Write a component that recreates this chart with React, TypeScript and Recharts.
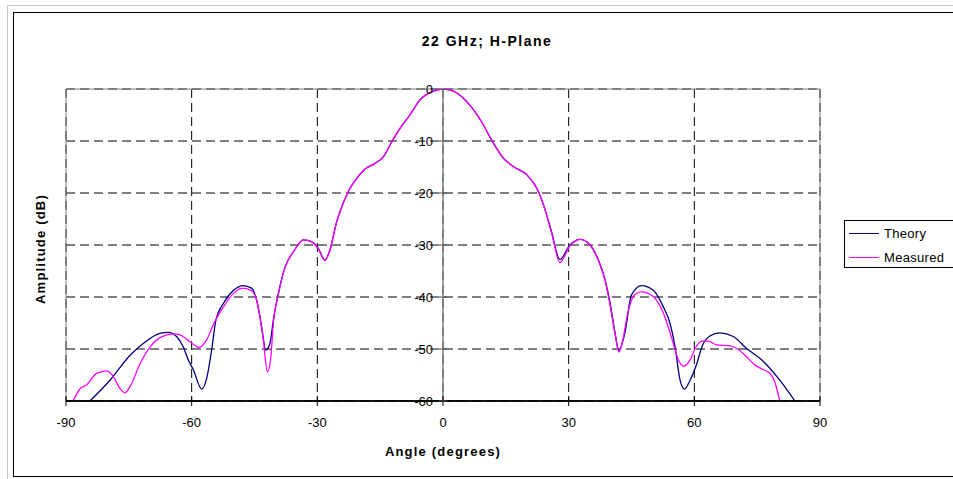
import React from 'react';
import { LineChart, Line, XAxis, YAxis, CartesianGrid, ReferenceLine, Legend } from 'recharts';

const chartTitle = '22 GHz; H-Plane';
const xTitle = 'Angle (degrees)';
const yTitle = 'Amplitude (dB)';
const seriesNames = ['Theory', 'Measured'];
const seriesColors = ['#000080', '#FF00FF'];
const xTicks = [-90, -60, -30, 0, 30, 60, 90];
const yTicks = [0, -10, -20, -30, -40, -50, -60];

const theoryAngle = [
  -84.3, -79.5, -74.7, -71.5, -67.6, -65.6, -63.6, -62.0, -60.8, -59.6, -57.6, -56.4, -55.2, -54.2,
  -52.4, -50.0, -47.7, -45.7, -44.5, -43.3, -42.3, -41.3, -40.5, -39.3, -37.7, -35.7, -33.3, -31.3,
  -29.8, -28.2, -27.0, -25.4, -24.6, -22.6, -20.6, -18.6, -16.2, -14.2, -12.2, -10.3, -7.9, -5.5,
  -2.3, 0, 2.5, 6.4, 9.2, 11.6, 14.4, 16.8, 20.0, 22.4, 24.0, 25.9, 27.9, 30.3, 32.7, 35.1, 37.1,
  38.7, 39.9, 41.1, 42.0, 43.4, 45.0, 47.4, 50.2, 52.6, 54.2, 55.4, 56.6, 57.6, 59.0, 60.6, 61.8,
  63.7, 66.1, 69.3, 72.5, 76.5, 80.4, 84.0,
];
const theoryDb = [
  -60, -56.0, -51.2, -48.9, -47.0, -46.8, -47.6, -49.6, -52.1, -54.0, -57.7, -55.6, -50.0, -44.4,
  -41.2, -38.7, -37.8, -38.3, -40.6, -45.7, -50.2, -48.9, -44.4, -39.3, -34.2, -31.3, -29.0, -29.4,
  -30.6, -32.9, -31.0, -25.6, -23.6, -19.7, -17.2, -15.4, -14.3, -13.0, -10.1, -7.6, -5.0, -2.1,
  -0.4, 0, -0.4, -3.1, -6.3, -9.8, -13.3, -14.9, -16.5, -19.1, -22.3, -27.4, -32.8, -30.0, -28.9,
  -30.0, -32.9, -36.7, -41.2, -47.0, -50.3, -47.0, -39.6, -37.8, -38.7, -41.9, -45.1, -49.6, -56.0,
  -57.7, -56.0, -52.8, -49.6, -47.5, -46.9, -47.6, -49.9, -52.4, -56.0, -60,
];

const measuredAngle = [
  -88.3, -86.7, -85.1, -82.7, -80.3, -78.7, -77.1, -75.9, -74.7, -72.3, -69.9, -67.6, -64.4, -62.8,
  -60.4, -58.2, -56.4, -54.6, -52.4, -50.0, -47.7, -45.7, -44.1, -42.9, -41.9, -41.1, -40.5, -39.3,
  -37.7, -35.7, -33.3, -31.3, -29.8, -28.2, -27.0, -25.4, -24.6, -22.6, -20.6, -18.6, -16.2, -14.2,
  -12.2, -10.3, -7.9, -5.5, -2.3, 0, 2.5, 6.4, 9.2, 11.6, 14.4, 16.8, 20.0, 22.4, 24.0, 25.9, 27.9,
  30.3, 32.7, 35.1, 37.1, 38.7, 39.9, 41.1, 42.0, 43.0, 44.0, 45.8, 47.4, 50.2, 52.6, 54.6, 56.2,
  57.4, 59.0, 60.2, 61.8, 63.3, 65.3, 68.5, 70.1, 72.1, 74.5, 76.5, 78.1, 79.3, 80.4,
];
const measuredDb = [
  -60, -57.7, -56.9, -54.7, -54.2, -55.3, -57.6, -58.4, -57.2, -52.8, -49.6, -47.8, -47.1, -47.3,
  -48.6, -49.7, -48.2, -44.9, -41.9, -39.3, -38.3, -38.8, -41.9, -48.3, -54.4, -51.5, -45.1, -39.5,
  -34.3, -31.3, -29.0, -29.4, -30.7, -33.0, -31.0, -25.6, -23.6, -19.7, -17.2, -15.4, -14.3, -13.0,
  -10.1, -7.6, -5.0, -2.1, -0.4, 0, -0.4, -3.1, -6.3, -9.8, -13.3, -14.9, -16.5, -19.1, -22.3,
  -27.6, -33.4, -30.2, -28.9, -30.0, -33.0, -36.9, -41.6, -47.3, -50.6, -48.0, -43.5, -39.5, -39.0,
  -39.9, -43.1, -47.9, -52.1, -53.3, -52.1, -49.9, -48.5, -48.5, -49.2, -49.4, -49.9, -51.2, -53.1,
  -54.0, -54.7, -56.6, -60,
];

const theoryData = theoryAngle.map((a, i) => ({ angle: a, value: theoryDb[i] }));
const measuredData = measuredAngle.map((a, i) => ({ angle: a, value: measuredDb[i] }));

const W = 953;
const H = 479;
const Y_AXIS_W = 1;
const MARGIN = { top: 89, right: 133, bottom: 48, left: 65 };
const X_AXIS_H = 30;
const PLOT_LEFT = MARGIN.left + Y_AXIS_W;
const PLOT_RIGHT = W - MARGIN.right;
const PLOT_BOTTOM = H - MARGIN.bottom - X_AXIS_H;
const CENTER_X = (PLOT_LEFT + PLOT_RIGHT) / 2;
const FONT = '"Liberation Sans", Arial, sans-serif';

const XTick = (props: any) => {
  const { x, payload } = props;
  return (
    <g>
      <line x1={x} x2={x} y1={PLOT_BOTTOM - 5} y2={PLOT_BOTTOM + 5} stroke="#000" strokeWidth={1} />
      <text x={x} y={PLOT_BOTTOM + 21} textAnchor="middle" dominantBaseline="central" fontSize={13} fill="#000" fontFamily={FONT}>
        {payload.value}
      </text>
    </g>
  );
};

const YTick = (props: any) => {
  const { y, payload } = props;
  return (
    <g>
      <line x1={CENTER_X - 4} x2={CENTER_X + 4} y1={y} y2={y} stroke="#555" strokeWidth={1} />
      <text x={CENTER_X - 10} y={y} textAnchor="end" dominantBaseline="central" fontSize={13} fill="#000" fontFamily={FONT}>
        {payload.value}
      </text>
    </g>
  );
};

const LegendBox = () => (
  <div
    style={{
      border: '1px solid #000',
      width: 130,
      height: 48,
      background: '#fff',
      fontFamily: FONT,
      fontSize: 13,
      boxSizing: 'border-box',
      position: 'relative',
    }}
  >
    {seriesNames.map((name, i) => (
      <div key={name} style={{ position: 'absolute', left: 4, top: 4 + i * 24, height: 17, display: 'flex', alignItems: 'center' }}>
        <span style={{ display: 'inline-block', width: 30, height: 0, borderTop: `1.5px solid ${seriesColors[i]}` }} />
        <span style={{ marginLeft: 5, letterSpacing: 0.3, color: '#000' }}>{name}</span>
      </div>
    ))}
  </div>
);

export default function App() {
  return (
    <div style={{ position: 'fixed', left: 0, top: 0, width: W, height: H, overflow: 'hidden', background: '#fff' }}>
      <div style={{ position: 'absolute', left: 7, top: 5, width: 2000, height: 2000, borderLeft: '1px solid #c8c8c8', borderTop: '1px solid #c8c8c8' }} />
      <div style={{ position: 'absolute', left: 13, top: 12, width: 2000, height: 465, border: '1px solid #000', boxSizing: 'border-box' }} />
      <div style={{ position: 'absolute', left: 0, top: 0 }}>
        <LineChart width={W} height={H} margin={MARGIN}>
          <CartesianGrid stroke="#000" strokeDasharray="9 5" strokeWidth={1} />
          <XAxis
            type="number"
            dataKey="angle"
            domain={[-90, 90]}
            ticks={xTicks}
            allowDataOverflow
            height={X_AXIS_H}
            axisLine={{ stroke: '#000', strokeWidth: 1.5 }}
            tickLine={false}
            tick={<XTick />}
            interval={0}
          />
          <YAxis
            type="number"
            dataKey="value"
            domain={[-60, 0]}
            ticks={yTicks}
            allowDataOverflow
            width={Y_AXIS_W}
            axisLine={false}
            tickLine={false}
            tick={<YTick />}
            interval={0}
          />
          <ReferenceLine x={-90} stroke="#808080" strokeWidth={1} />
          <ReferenceLine x={90} stroke="#808080" strokeWidth={1} />
          <ReferenceLine y={0} stroke="#808080" strokeWidth={1} />
          <ReferenceLine x={0} stroke="#808080" strokeWidth={1.5} />
          <ReferenceLine y={-60} stroke="#000" strokeWidth={1.5} />
          <Line
            data={theoryData}
            dataKey="value"
            name={seriesNames[0]}
            type="monotone"
            stroke={seriesColors[0]}
            strokeWidth={1.3}
            dot={false}
            isAnimationActive={false}
          />
          <Line
            data={measuredData}
            dataKey="value"
            name={seriesNames[1]}
            type="monotone"
            stroke={seriesColors[1]}
            strokeWidth={1.3}
            dot={false}
            isAnimationActive={false}
          />
          <Legend
            layout="vertical"
            align="center"
            verticalAlign="middle"
            content={<LegendBox />}
            wrapperStyle={{ left: 844, top: 220, width: 130, height: 48 }}
          />
          <text x={487} y={41} textAnchor="middle" dominantBaseline="central" fontSize={14} fontWeight="bold" letterSpacing={1.5} fontFamily={FONT} fill="#000">
            {chartTitle}
          </text>
          <text x={CENTER_X} y={451} textAnchor="middle" dominantBaseline="central" fontSize={13} fontWeight="bold" letterSpacing={1.2} fontFamily={FONT} fill="#000">
            {xTitle}
          </text>
          <text
            x={40}
            y={249}
            textAnchor="middle"
            dominantBaseline="central"
            fontSize={13}
            fontWeight="bold"
            letterSpacing={1.2}
            fontFamily={FONT}
            fill="#000"
            transform="rotate(-90 40 249)"
          >
            {yTitle}
          </text>
        </LineChart>
      </div>
    </div>
  );
}
